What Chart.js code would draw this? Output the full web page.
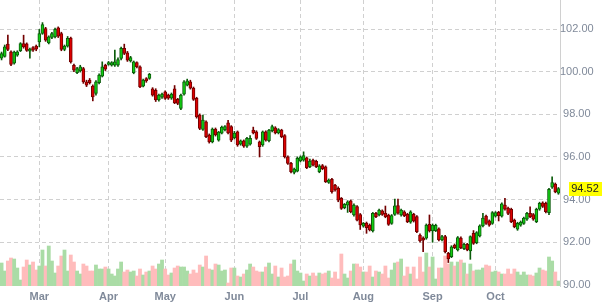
<!DOCTYPE html>
<html>
<head>
<meta charset="utf-8">
<script src="https://cdn.jsdelivr.net/npm/chart.js@4.4.1/dist/chart.umd.min.js"></script>
<style>
  html, body { margin: 0; padding: 0; background: #fff; }
  #wrap { width: 610px; height: 306px; }
</style>
</head>
<body>
<div id="wrap"><canvas id="chart" width="610" height="306"></canvas></div>
<script>
// daily OHLC (one entry per trading day)
const opens = [
  100.63, 100.72, 101.29, 100.93, 100.40, 100.77, 100.98, 101.32, 101.30, 100.96,
  101.13, 101.20, 101.40, 101.79, 102.02, 101.35, 101.60, 101.63, 102.05, 101.79,
  101.04, 101.20, 101.58, 100.30, 99.95, 100.04, 100.15, 99.52, 99.60, 99.32,
  98.98, 99.48, 99.79, 100.30, 100.34, 100.30, 100.30, 100.30, 100.62, 101.09,
  100.88, 100.50, 99.95, 100.42, 100.23, 99.32, 99.68, 99.68, 99.20, 99.13,
  98.67, 98.80, 99.06, 98.90, 98.76, 99.20, 98.70, 98.28, 98.95, 99.37,
  99.52, 99.23, 98.75, 97.96, 97.29, 97.65, 97.03, 96.71, 97.31, 96.79,
  97.12, 97.28, 97.60, 97.42, 96.89, 97.18, 96.60, 96.76, 96.51, 96.60,
  97.26, 97.18, 96.71, 96.56, 97.18, 96.76, 97.23, 97.37, 97.13, 97.26,
  97.00, 96.01, 95.70, 95.27, 95.34, 95.81, 95.85, 95.96, 95.54, 95.85,
  95.80, 95.31, 95.60, 95.54, 94.81, 94.95, 94.68, 94.53, 94.06, 93.62,
  93.74, 93.94, 93.28, 93.67, 93.30, 92.76, 92.90, 92.81, 92.53, 93.36,
  93.28, 93.47, 93.36, 93.28, 92.89, 93.31, 93.72, 93.28, 93.43, 93.31,
  92.94, 93.31, 93.20, 92.34, 92.20, 92.19, 92.84, 92.53, 92.55, 92.63,
  92.11, 92.27, 91.48, 91.33, 91.87, 91.64, 92.20, 91.70, 91.90, 91.60,
  92.42, 91.98, 92.30, 92.77, 93.23, 93.00, 92.89, 93.23, 93.40, 93.23,
  93.75, 93.60, 93.55, 93.04, 92.61, 92.80, 92.89, 93.08, 93.36, 93.30,
  92.97, 93.55, 93.85, 93.83, 93.39, 94.58, 94.73, 94.30
];
const highs = [
  100.92, 101.25, 101.71, 100.98, 100.97, 100.98, 101.36, 101.71, 101.35, 101.10,
  101.18, 101.25, 101.98, 102.30, 102.08, 101.68, 101.84, 102.04, 102.10, 101.85,
  101.25, 101.65, 101.62, 100.35, 100.20, 100.30, 100.20, 99.60, 99.68, 99.38,
  99.58, 99.90, 100.46, 100.35, 100.48, 100.47, 101.01, 100.65, 101.15, 101.29,
  100.95, 100.72, 100.50, 100.46, 100.27, 99.65, 99.72, 99.92, 99.25, 99.20,
  98.95, 99.00, 99.10, 98.95, 99.00, 99.35, 98.75, 98.95, 99.58, 99.65,
  99.60, 99.28, 98.80, 98.02, 97.96, 97.70, 97.08, 97.36, 97.36, 97.20,
  97.45, 97.47, 97.72, 97.47, 97.20, 97.22, 96.80, 96.80, 96.92, 97.00,
  97.40, 97.23, 96.75, 97.22, 97.23, 97.30, 97.50, 97.42, 97.33, 97.30,
  97.05, 96.05, 95.75, 95.48, 96.00, 96.05, 96.24, 96.00, 95.90, 95.90,
  95.85, 95.64, 95.65, 95.58, 94.97, 95.00, 94.72, 94.60, 94.10, 93.82,
  93.95, 93.98, 93.80, 93.72, 93.35, 92.93, 92.95, 92.86, 93.40, 93.40,
  93.56, 93.52, 93.70, 93.32, 93.30, 94.03, 94.03, 93.56, 93.48, 93.36,
  93.48, 93.36, 93.25, 92.40, 92.25, 92.86, 93.28, 92.86, 92.85, 92.68,
  92.32, 92.32, 91.53, 91.84, 91.92, 92.27, 92.25, 91.95, 91.95, 92.30,
  92.55, 92.50, 92.82, 93.36, 93.28, 93.05, 93.44, 93.44, 93.45, 93.85,
  94.06, 93.65, 93.60, 93.09, 92.94, 93.00, 93.18, 93.41, 93.66, 93.35,
  93.60, 93.88, 93.90, 93.88, 94.53, 95.07, 94.78, 94.57
];
const lows = [
  100.55, 100.68, 100.98, 100.28, 100.35, 100.72, 100.94, 101.10, 100.95, 100.63,
  100.95, 100.98, 101.16, 101.75, 101.42, 101.30, 101.55, 101.58, 101.60, 100.98,
  100.98, 101.15, 100.40, 100.00, 99.90, 99.98, 99.45, 99.30, 99.42, 98.63,
  98.90, 99.42, 99.75, 100.05, 100.30, 100.26, 100.25, 100.25, 100.55, 100.80,
  100.48, 100.45, 99.90, 100.18, 99.25, 99.28, 99.50, 99.64, 98.85, 98.60,
  98.62, 98.75, 98.70, 98.70, 98.70, 98.50, 98.45, 98.22, 98.90, 99.33,
  99.18, 98.65, 97.82, 97.28, 97.25, 96.90, 96.65, 96.66, 96.98, 96.74,
  97.08, 97.22, 97.08, 96.72, 96.84, 96.50, 96.55, 96.45, 96.45, 96.55,
  97.08, 96.82, 96.00, 96.50, 96.74, 96.70, 97.18, 97.08, 97.08, 96.90,
  95.95, 95.65, 95.25, 95.20, 95.30, 95.77, 95.80, 95.45, 95.50, 95.58,
  95.50, 95.26, 95.40, 94.80, 94.76, 94.30, 94.40, 93.90, 93.54, 93.57,
  93.40, 93.38, 93.23, 93.00, 92.60, 92.71, 92.42, 92.53, 92.48, 93.15,
  93.24, 93.26, 93.15, 92.79, 92.84, 93.26, 93.32, 93.23, 93.20, 92.92,
  92.89, 92.95, 92.45, 92.00, 91.56, 92.14, 92.48, 92.00, 92.50, 92.06,
  92.06, 91.50, 91.05, 91.28, 91.70, 91.59, 91.70, 91.65, 91.60, 91.20,
  91.90, 91.93, 92.25, 92.72, 92.84, 92.75, 92.84, 93.18, 93.00, 93.18,
  93.50, 93.30, 92.92, 92.68, 92.56, 92.75, 92.84, 93.03, 93.15, 93.03,
  92.92, 93.50, 93.63, 93.38, 93.30, 94.53, 94.32, 94.25
];
const closes = [
  100.85, 101.16, 101.04, 100.34, 100.92, 100.93, 101.32, 101.16, 101.00, 101.06,
  101.01, 101.05, 101.79, 102.21, 101.48, 101.63, 101.79, 101.98, 101.66, 101.04,
  101.20, 101.56, 100.46, 100.07, 100.15, 100.23, 99.52, 99.37, 99.48, 98.82,
  99.52, 99.84, 100.23, 100.12, 100.42, 100.42, 100.46, 100.57, 101.09, 100.85,
  100.54, 100.66, 100.46, 100.23, 99.29, 99.60, 99.57, 99.88, 98.90, 98.67,
  98.90, 98.95, 98.75, 98.76, 98.95, 98.54, 98.51, 98.90, 99.52, 99.57,
  99.23, 98.70, 97.88, 97.34, 97.73, 96.95, 96.71, 97.31, 97.03, 97.17,
  97.40, 97.42, 97.13, 96.79, 97.12, 96.56, 96.76, 96.51, 96.87, 96.87,
  97.13, 96.87, 96.48, 97.18, 96.79, 97.26, 97.42, 97.13, 97.29, 96.95,
  96.01, 95.70, 95.31, 95.43, 95.94, 96.01, 96.06, 95.50, 95.81, 95.62,
  95.54, 95.59, 95.45, 94.84, 94.92, 94.37, 94.45, 93.98, 93.59, 93.78,
  93.90, 93.43, 93.75, 93.04, 92.81, 92.89, 92.68, 92.58, 93.36, 93.20,
  93.51, 93.31, 93.20, 92.84, 93.25, 93.71, 93.37, 93.51, 93.25, 92.97,
  93.43, 93.00, 92.50, 92.06, 92.10, 92.81, 92.53, 92.81, 92.80, 92.11,
  92.27, 91.56, 91.22, 91.79, 91.75, 92.22, 91.75, 91.90, 91.65, 92.27,
  91.95, 92.45, 92.77, 93.13, 92.89, 92.80, 93.39, 93.39, 93.25, 93.80,
  93.55, 93.35, 92.97, 92.73, 92.89, 92.95, 93.13, 93.36, 93.20, 93.08,
  93.55, 93.83, 93.68, 93.43, 94.48, 94.80, 94.37, 94.52
];
// volume in thousands
const volumes = [
  1150, 750, 1250, 1400, 1350, 900, 300, 950, 1300, 1050,
  1200, 800, 1000, 1800, 1000, 2000, 1250, 650, 1000, 1500,
  1800, 750, 1550, 1200, 750, 600, 1100, 1000, 750, 750,
  1050, 850, 850, 950, 850, 600, 500, 850, 1200, 700,
  800, 700, 750, 500, 850, 550, 700, 750, 1000, 850,
  1100, 1300, 850, 550, 650, 900, 1000, 950, 950, 750,
  600, 800, 650, 1050, 950, 1500, 850, 800, 1100, 1050,
  750, 800, 150, 900, 900, 500, 450, 600, 800, 1100,
  950, 750, 700, 700, 950, 1150, 600, 1000, 450, 900,
  450, 500, 1100, 1300, 750, 650, 250,
  600, 500, 650, 500, 650, 600, 650, 750, 400, 700,
  350, 1600, 600, 400, 750, 1100, 1100, 950, 700,
  700, 1000, 450, 750, 700, 600, 1000, 400, 800, 1150,
  1200, 1350, 500, 950, 600, 950, 350, 1450, 700, 1650,
  950, 1450, 350,
  900, 900, 1500, 1100, 1200, 1000, 1200, 1300, 1150, 600,
  1100, 750, 800, 800, 900, 1050, 1000, 700,
  750, 700, 600, 600, 850, 600, 850, 700, 550, 700,
  550, 550, 500, 650, 900,
  800, 750, 1450, 1250, 700, 250
];
const monthIndex = [12, 34, 52, 74, 95, 115, 137, 157];
const monthNames = ['Mar', 'Apr', 'May', 'Jun', 'Jul', 'Aug', 'Sep', 'Oct'];
const priceTicks = [90, 92, 94, 96, 98, 100, 102];

const GRID = '#d0d0d0';
const AXIS_TEXT = '#808a9a';
const FONT = '"Liberation Sans", Arial, sans-serif';

const labels = closes.map((_, i) => i);
const up = closes.map((c, i) => c >= opens[i]);

// yellow tag with the last close on the right axis
const lastPriceTag = {
    id: 'lastPriceTag',
    afterDraw(chart) {
        const y = chart.scales.y;
        const last = closes[closes.length - 1];
        const py = y.getPixelForValue(last);
        const cx = (y.left + y.right) / 2;
        const ctx = chart.ctx;
        const txt = last.toFixed(2);
        ctx.save();
        ctx.font = '11px ' + FONT;
        const w = ctx.measureText(txt).width + 5;
        ctx.fillStyle = '#ffff00';
        ctx.fillRect(Math.round(cx - w / 2), Math.round(py - 7), Math.round(w), 14);
        ctx.fillStyle = '#222';
        ctx.textAlign = 'center';
        ctx.textBaseline = 'middle';
        ctx.fillText(txt, cx, py + 0.5);
        ctx.restore();
    }
};

new Chart(document.getElementById('chart'), {
    type: 'bar',
    data: {
        labels: labels,
        datasets: [
            {
                // candle bodies
                data: opens.map((o, i) => [o, closes[i]]),
                yAxisID: 'y',
                grouped: false,
                order: 0,
                barThickness: 3,
                borderWidth: 1,
                borderSkipped: false,
                backgroundColor: ctx => up[ctx.dataIndex] ? '#12cc12' : '#dc0000',
                borderColor: ctx => up[ctx.dataIndex] ? '#0b5c0b' : '#720000'
            },
            {
                // wicks
                data: lows.map((l, i) => [l, highs[i]]),
                yAxisID: 'y',
                grouped: false,
                order: 1,
                barThickness: 1,
                borderWidth: 0,
                backgroundColor: ctx => up[ctx.dataIndex] ? '#0b5c0b' : '#720000'
            },
            {
                // volume
                data: volumes,
                yAxisID: 'yv',
                grouped: false,
                order: 2,
                barPercentage: 1,
                categoryPercentage: 1,
                borderWidth: 0,
                backgroundColor: ctx => up[ctx.dataIndex] ? '#aadca6' : '#ffbcbc'
            }
        ]
    },
    options: {
        responsive: false,
        animation: false,
        devicePixelRatio: 1,
        layout: { padding: 0 },
        plugins: {
            legend: { display: false },
            tooltip: { enabled: false }
        },
        scales: {
            x: {
                type: 'category',
                offset: true,
                border: { display: false, dash: [4, 3] },
                grid: {
                    offset: false,
                    drawTicks: false,
                    color: GRID
                },
                ticks: {
                    autoSkip: false,
                    maxRotation: 0,
                    padding: 4,
                    color: AXIS_TEXT,
                    font: { family: FONT, size: 11, weight: 'bold' },
                    callback: function(value) {
                        const k = monthIndex.indexOf(value);
                        return k >= 0 ? monthNames[k] : '';
                    }
                },
                afterBuildTicks: scale => {
                    scale.ticks = monthIndex.map(v => ({ value: v }));
                },
                afterFit: scale => {
                    scale.height = 20;
                    scale.paddingLeft = 0;
                    scale.paddingRight = 0;
                }
            },
            y: {
                position: 'right',
                min: 89.95,
                max: 103.36,
                border: { display: true, color: GRID, dash: [4, 3] },
                grid: {
                    drawTicks: false,
                    color: GRID
                },
                ticks: {
                    padding: 0,
                    crossAlign: 'center',
                    color: AXIS_TEXT,
                    font: { family: FONT, size: 11 },
                    callback: v => Number(v).toFixed(2)
                },
                afterBuildTicks: scale => {
                    scale.ticks = priceTicks.map(v => ({ value: v }));
                },
                afterFit: scale => {
                    scale.width = 50;
                    scale.paddingTop = 0;
                    scale.paddingBottom = 0;
                }
            },
            yv: {
                display: false,
                min: 0,
                max: 14300
            }
        }
    },
    plugins: [lastPriceTag]
});
</script>
</body>
</html>
